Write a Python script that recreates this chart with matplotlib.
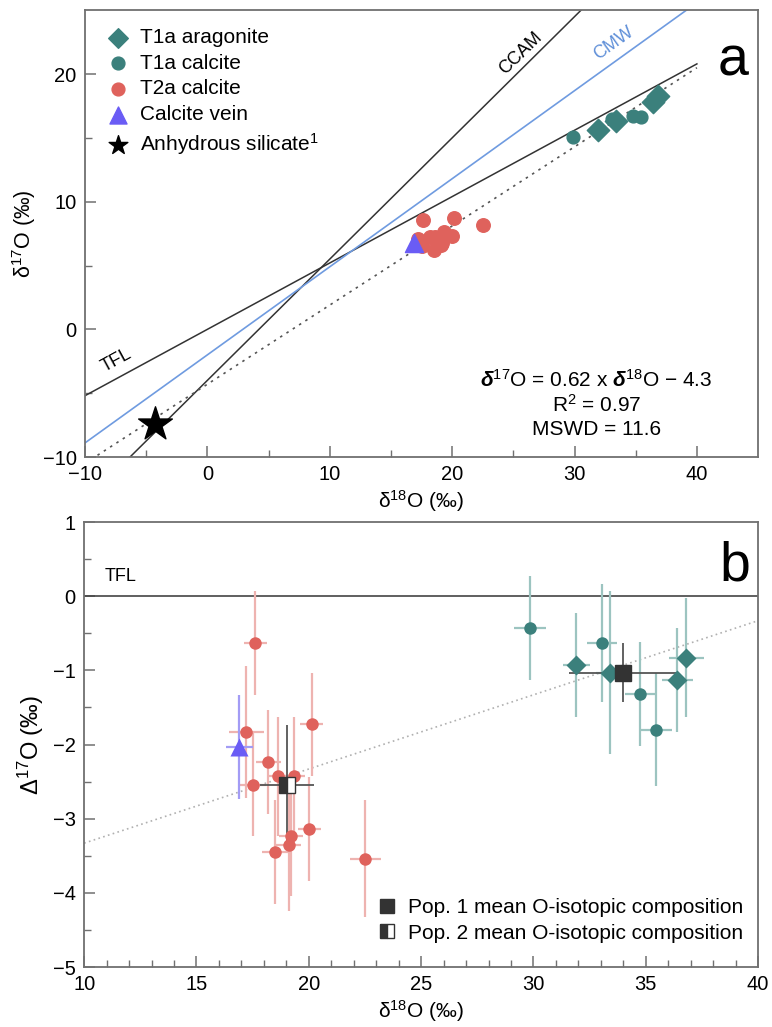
import matplotlib
matplotlib.use('Agg')
import matplotlib.pyplot as plt
import numpy as np

plt.rcParams['font.family'] = ['Liberation Sans', 'DejaVu Sans']
plt.rcParams['mathtext.fontset'] = 'custom'
plt.rcParams['mathtext.rm'] = 'Liberation Sans'
plt.rcParams['mathtext.it'] = 'Liberation Sans:italic'
plt.rcParams['mathtext.bf'] = 'Liberation Sans:bold:italic'
plt.rcParams['mathtext.default'] = 'regular'

# ---- data ----
# T1a aragonite (diamonds)
arag_d18 = [31.9, 33.4, 36.4, 36.8]
arag_D17 = [-0.93, -1.03, -1.13, -0.83]
arag_d17 = [15.6, 16.3, 17.8, 18.3]
arag_xerr = [0.6, 0.6, 0.7, 0.78]
arag_yerr = [0.7, 1.1, 0.7, 0.8]

# T1a calcite (circles)
t1c_d18 = [29.85, 33.05, 34.76, 35.46]
t1c_D17 = [-0.43, -0.63, -1.32, -1.8]
t1c_d17 = [15.1, 16.5, 16.75, 16.6]
t1c_xerr = [0.7, 0.68, 0.7, 0.7]
t1c_yerr = [0.7, 0.8, 0.7, 0.76]

# T2a calcite (red circles)
t2c_d18 = [17.62, 17.21, 18.2, 18.62, 19.32, 17.5, 20.03, 19.21, 19.11, 18.51, 22.52, 20.13]
t2c_D17 = [-0.63, -1.83, -2.24, -2.43, -2.43, -2.54, -3.14, -3.24, -3.35, -3.45, -3.54, -1.73]
t2c_d17 = [8.55, 7.1, 7.2, 7.25, 7.6, 6.55, 7.3, 6.75, 6.6, 6.2, 8.2, 8.75]
t2c_xerr = [0.52, 0.78, 0.55, 0.5, 0.5, 0.6, 0.5, 0.55, 0.55, 0.6, 0.68, 0.5]
t2c_yerr = [0.7, 0.89, 0.7, 0.8, 0.8, 0.7, 0.7, 0.8, 0.9, 0.7, 0.79, 0.7]

# calcite vein
vein_d18 = [16.91]
vein_D17 = [-2.03]
vein_d17 = [6.8]
vein_xerr = [0.6]
vein_yerr = [0.7]

# anhydrous silicate
sil_d18 = [-4.3]
sil_d17 = [-7.4]

# population means (x, y, xerr, yerr)
pop1 = (33.97, -1.03, 2.4, 0.4)
pop2 = (19.02, -2.54, 1.2, 0.8)

# reference lines (slope, intercept)
tfl = (0.52, 0.0)
ccam = (0.95, -4.0)
cmw = (0.69, -2.0)
fit_a = (0.62, -4.3)
fit_b = (0.10, -4.33)

teal = '#3b807c'
teal_err = '#9cc4c0'
red = '#df625c'
red_err = '#eeb3b0'
blue = '#6a5cf5'
blue_err = '#a39cf5'
spine_col = '#707070'

fig = plt.figure(figsize=(7.72, 10.27), dpi=100)
ax1 = fig.add_axes([0.110, 0.555, 0.872, 0.435])
ax2 = fig.add_axes([0.109, 0.0584, 0.873, 0.4333])

for ax in (ax1, ax2):
    for s in ax.spines.values():
        s.set_color(spine_col)
        s.set_linewidth(1.3)
    ax.tick_params(which='both', direction='in', top=False, right=False,
                   color=spine_col, labelsize=14.5, pad=6)
    ax.tick_params(which='major', length=8, width=1.1)
    ax.tick_params(which='minor', length=5, width=1.0)

# ---------------- panel a ----------------
xs = np.array([-10, 45])
ax1.plot([-10, 40], [tfl[0] * -10 + tfl[1], tfl[0] * 40 + tfl[1]], color='#333333', lw=1.1)
ax1.plot(xs, ccam[0] * xs + ccam[1], color='#333333', lw=1.1)
ax1.plot(xs, cmw[0] * xs + cmw[1], color='#6f9be0', lw=1.2)
xf = np.array([-10, 40])
ax1.plot(xf, fit_a[0] * xf + fit_a[1], color='#555555', lw=1.2, ls=(0, (1.5, 3)))

ax1.scatter(t2c_d18, t2c_d17, s=95, color=red, zorder=3)
ax1.scatter(t1c_d18, t1c_d17, s=85, color=teal, zorder=3)
ax1.scatter(arag_d18, arag_d17, s=130, marker='D', color=teal, zorder=3)
ax1.scatter(vein_d18, vein_d17, s=170, marker='^', color=blue, zorder=3)
ax1.scatter(sil_d18, sil_d17, s=650, marker='*', color='black', zorder=4)

h1 = ax1.scatter([], [], s=100, marker='D', color=teal, label='T1a aragonite')
h2 = ax1.scatter([], [], s=85, color=teal, label='T1a calcite')
h3 = ax1.scatter([], [], s=85, color=red, label='T2a calcite')
h4 = ax1.scatter([], [], s=150, marker='^', color=blue, label='Calcite vein')
h5 = ax1.scatter([], [], s=200, marker='*', color='black', label='Anhydrous silicate$^1$')
ax1.legend(handles=[h1, h2, h3, h4, h5], loc='upper left', frameon=False, fontsize=15,
           handletextpad=0.3, labelspacing=0.32, borderaxespad=0.5, borderpad=0.35,
           handlelength=1.5)

ax1.set_xlim(-10, 45)
ax1.set_ylim(-10, 25)
ax1.set_xticks([-10, 0, 10, 20, 30, 40])
ax1.set_xticks([-5, 5, 15, 25, 35], minor=True)
ax1.set_yticks([-10, 0, 10, 20])
ax1.set_yticks([-5, 5, 15], minor=True)
ax1.set_xticklabels(['\u221210', '0', '10', '20', '30', '40'])
ax1.set_yticklabels(['\u221210', '0', '10', '20'])
ax1.set_xlabel('\u03b4$^{18}$O (\u2030)', fontsize=15, labelpad=3)
ax1.set_ylabel('\u03b4$^{17}$O (\u2030)', fontsize=15.5, labelpad=3)

ax1.text(-7.4, -2.4, 'TFL', rotation=28.5, fontsize=13, ha='center', va='center')
ax1.text(25.6, 21.6, 'CCAM', rotation=44.5, fontsize=13, ha='center', va='center')
ax1.text(33.2, 22.4, 'CMW', rotation=35.5, fontsize=13, ha='center', va='center', color='#5f8fd8')
ax1.text(0.963, 0.885, 'a', transform=ax1.transAxes, fontsize=40, ha='center', va='center')
ax1.text(0.76, 0.172, '$\\mathbf{\u03b4}^{17}$O = 0.62 x $\\mathbf{\u03b4}^{18}$O \u2212 4.3',
         transform=ax1.transAxes, fontsize=15, ha='center', va='center')
ax1.text(0.76, 0.117, 'R$^2$ = 0.97', transform=ax1.transAxes, fontsize=15, ha='center', va='center')
ax1.text(0.76, 0.062, 'MSWD = 11.6', transform=ax1.transAxes, fontsize=15, ha='center', va='center')

# ---------------- panel b ----------------
ax2.axhline(0, color='#444444', lw=1.2)
xb = np.array([10, 40])
ax2.plot(xb, fit_b[0] * xb + fit_b[1], color='#b0b0b0', lw=1.2, ls=(0, (1, 2)))

ax2.errorbar(t2c_d18, t2c_D17, xerr=t2c_xerr, yerr=t2c_yerr, fmt='none',
             ecolor=red_err, elinewidth=1.6, capsize=0, zorder=2)
ax2.errorbar(t1c_d18, t1c_D17, xerr=t1c_xerr, yerr=t1c_yerr, fmt='none',
             ecolor=teal_err, elinewidth=1.6, capsize=0, zorder=2)
ax2.errorbar(arag_d18, arag_D17, xerr=arag_xerr, yerr=arag_yerr, fmt='none',
             ecolor=teal_err, elinewidth=1.6, capsize=0, zorder=2)
ax2.errorbar(vein_d18, vein_D17, xerr=vein_xerr, yerr=vein_yerr, fmt='none',
             ecolor=blue_err, elinewidth=1.6, capsize=0, zorder=2)
ax2.errorbar([pop1[0]], [pop1[1]], xerr=[pop1[2]], yerr=[pop1[3]], fmt='none',
             ecolor='#555555', elinewidth=1.3, capsize=0, zorder=3)
ax2.errorbar([pop2[0]], [pop2[1]], xerr=[pop2[2]], yerr=[pop2[3]], fmt='none',
             ecolor='#555555', elinewidth=1.3, capsize=0, zorder=3)

ax2.plot(t2c_d18, t2c_D17, 'o', ms=9, color=red, mec='none', zorder=4)
ax2.plot(t1c_d18, t1c_D17, 'o', ms=9, color=teal, mec='none', zorder=4)
ax2.plot(arag_d18, arag_D17, 'D', ms=10, color=teal, mec='none', zorder=4)
ax2.plot(vein_d18, vein_D17, '^', ms=13, color=blue, mec='none', zorder=4)
ax2.plot([pop1[0]], [pop1[1]], 's', ms=12, color='#333333', mec='#333333', zorder=5)
ax2.plot([pop2[0]], [pop2[1]], 's', ms=12, fillstyle='left', color='#333333',
         markerfacecoloralt='white', mec='#333333', mew=1.0, zorder=5)

p1, = ax2.plot([], [], 's', ms=10, color='#333333', label='Pop. 1 mean O-isotopic composition')
p2, = ax2.plot([], [], 's', ms=10, fillstyle='left', color='#333333', markerfacecoloralt='white',
               mec='#333333', mew=1.0, label='Pop. 2 mean O-isotopic composition')
ax2.legend(handles=[p1, p2], loc='lower right', bbox_to_anchor=(1.0, 0.022), frameon=False,
           fontsize=15, handletextpad=0.4, labelspacing=0.3, borderaxespad=0.3,
           handlelength=1.2)

ax2.text(11.6, 0.27, 'TFL', fontsize=13, ha='center', va='center')
ax2.text(0.965, 0.90, 'b', transform=ax2.transAxes, fontsize=40, ha='center', va='center')

ax2.set_xlim(10, 40)
ax2.set_ylim(-5, 1)
ax2.set_xticks(np.arange(10, 41, 5))
ax2.set_xticks(np.arange(10, 41, 1), minor=True)
ax2.set_yticks(np.arange(-5, 2, 1))
ax2.set_yticks(np.arange(-4.5, 1, 1), minor=True)
ax2.set_yticklabels(['\u22125', '\u22124', '\u22123', '\u22122', '\u22121', '0', '1'])
ax2.set_xlabel('\u03b4$^{18}$O (\u2030)', fontsize=15, labelpad=3)
ax2.set_ylabel('\u0394$^{17}$O (\u2030)', fontsize=17, labelpad=5)

fig.savefig('out.png', dpi=100)
